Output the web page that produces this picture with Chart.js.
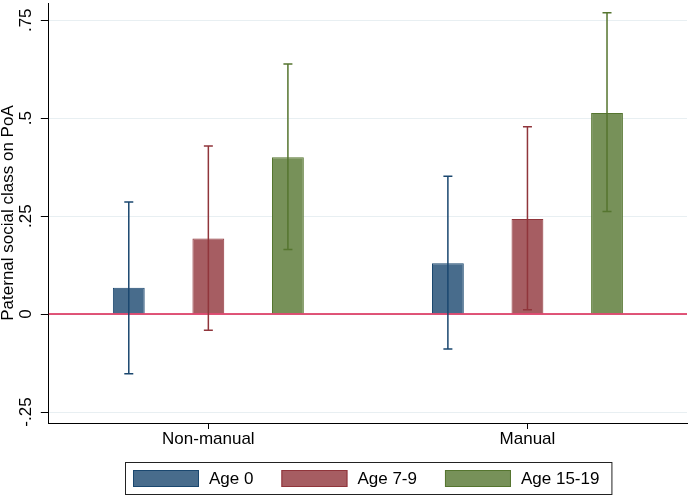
<!DOCTYPE html>
<html>
<head>
<meta charset="utf-8">
<script src="https://cdn.jsdelivr.net/npm/chart.js@4.4.0/dist/chart.umd.min.js"></script>
<style>
  html, body { margin: 0; padding: 0; background: #fff; }
  #wrap { width: 688px; height: 497px; }
</style>
</head>
<body>
<div id="wrap"><canvas id="chart" width="688" height="497"></canvas></div>
<script>
// values
const categories = ["Non-manual", "Manual"];
const seriesNames = ["Age 0", "Age 7-9", "Age 15-19"];

const age0 = [0.067, 0.130];
const age0Low = [-0.152, -0.089];
const age0High = [0.286, 0.352];

const age79 = [0.193, 0.243];
const age79Low = [-0.041, 0.011];
const age79High = [0.429, 0.478];

const age1519 = [0.400, 0.513];
const age1519Low = [0.165, 0.262];
const age1519High = [0.638, 0.769];

const yTicks = [-0.25, 0, 0.25, 0.5, 0.75];

const fills = ["#486c8c", "#a65d62", "#779159"];
const lines = ["#1a476f", "#90353b", "#55752f"];

const seriesValues = [age0, age79, age1519];
const errLow = [age0Low, age79Low, age1519Low];
const errHigh = [age0High, age79High, age1519High];

Chart.defaults.font.family = "'Liberation Sans', Arial, sans-serif";
Chart.defaults.font.size = 17;
Chart.defaults.color = "#000";

// red reference line at zero
const zeroLine = {
  id: "zeroLine",
  afterDatasetsDraw(chart) {
    const { ctx, chartArea } = chart;
    const y0 = chart.scales.y.getPixelForValue(0);
    ctx.save();
    ctx.strokeStyle = "#d81e4c";
    ctx.lineWidth = 1.5;
    ctx.beginPath();
    ctx.moveTo(chartArea.left, y0);
    ctx.lineTo(chartArea.right, y0);
    ctx.stroke();
    ctx.restore();
  }
};

// confidence intervals
const errorBars = {
  id: "errorBars",
  afterDatasetsDraw(chart) {
    const { ctx } = chart;
    const ys = chart.scales.y;
    ctx.save();
    chart.data.datasets.forEach((ds, i) => {
      const meta = chart.getDatasetMeta(i);
      meta.data.forEach((bar, j) => {
        const x = bar.x;
        const yl = ys.getPixelForValue(errLow[i][j]);
        const yh = ys.getPixelForValue(errHigh[i][j]);
        ctx.strokeStyle = lines[i];
        ctx.lineWidth = 1.5;
        ctx.beginPath();
        ctx.moveTo(x, yl);
        ctx.lineTo(x, yh);
        ctx.moveTo(x - 4.5, yl);
        ctx.lineTo(x + 4.5, yl);
        ctx.moveTo(x - 4.5, yh);
        ctx.lineTo(x + 4.5, yh);
        ctx.stroke();
      });
    });
    ctx.restore();
  }
};

// boxed legend under the x axis, centred on the plot
const boxLegend = {
  id: "boxLegend",
  afterDraw(chart) {
    const { ctx, chartArea } = chart;
    const boxW = 66, boxH = 17, gap = 10, itemGap = 28, padL = 8, padR = 12;
    ctx.save();
    ctx.font = "17px 'Liberation Sans', Arial, sans-serif";
    const widths = chart.data.datasets.map(d => ctx.measureText(d.label).width);
    let total = padL + padR + itemGap * (widths.length - 1);
    widths.forEach(w => { total += boxW + gap + w; });
    const left = Math.round((chartArea.left + chartArea.right) / 2 - total / 2);
    const top = chart.height - 35;
    ctx.strokeStyle = "#222";
    ctx.lineWidth = 1;
    ctx.strokeRect(left + 0.5, top + 0.5, total, 32);
    let x = left + padL;
    chart.data.datasets.forEach((d, i) => {
      ctx.fillStyle = d.backgroundColor;
      ctx.fillRect(x, top + 8, boxW, boxH);
      ctx.strokeStyle = d.borderColor;
      ctx.strokeRect(x + 0.5, top + 8.5, boxW - 1, boxH - 1);
      ctx.fillStyle = "#000";
      ctx.textBaseline = "middle";
      ctx.textAlign = "left";
      ctx.fillText(d.label, x + boxW + gap, top + 17);
      x += boxW + gap + widths[i] + itemGap;
    });
    ctx.restore();
  }
};

new Chart(document.getElementById("chart"), {
  type: "bar",
  data: {
    labels: categories,
    datasets: seriesNames.map((name, i) => ({
      label: name,
      data: seriesValues[i],
      backgroundColor: fills[i],
      borderColor: lines[i],
      borderWidth: 1,
      categoryPercentage: 0.748,
      barPercentage: 0.4
    }))
  },
  options: {
    responsive: false,
    animation: false,
    devicePixelRatio: 1,
    layout: { padding: { top: 3, right: 1, bottom: 47.6, left: 0 } },
    plugins: {
      legend: { display: false },
      tooltip: { enabled: false }
    },
    scales: {
      x: {
        grid: { display: true, drawOnChartArea: false, drawTicks: true, tickLength: 6, tickColor: "#000", offset: false },
        border: { color: "#000", width: 1 },
        ticks: { padding: 0, color: "#000" }
      },
      y: {
        min: -0.278,
        max: 0.794,
        afterBuildTicks: s => { s.ticks = yTicks.map(v => ({ value: v })); },
        // rotated labels don't need the extra top/bottom room
        afterFit: s => { s.paddingTop = 0; s.paddingBottom = 0; },
        ticks: {
          minRotation: 90,
          maxRotation: 90,
          crossAlign: "center",
          padding: 0,
          color: "#000",
          callback: v => (v === 0 ? "0" : String(v).replace("0.", "."))
        },
        grid: { color: "#e8eff2", lineWidth: 1, tickLength: 8, tickColor: "#000" },
        border: { color: "#000", width: 1 },
        title: {
          display: true,
          text: "Paternal social class on PoA",
          color: "#000",
          padding: { top: -2, bottom: 2 }
        }
      }
    }
  },
  plugins: [zeroLine, errorBars, boxLegend]
});
</script>
</body>
</html>
